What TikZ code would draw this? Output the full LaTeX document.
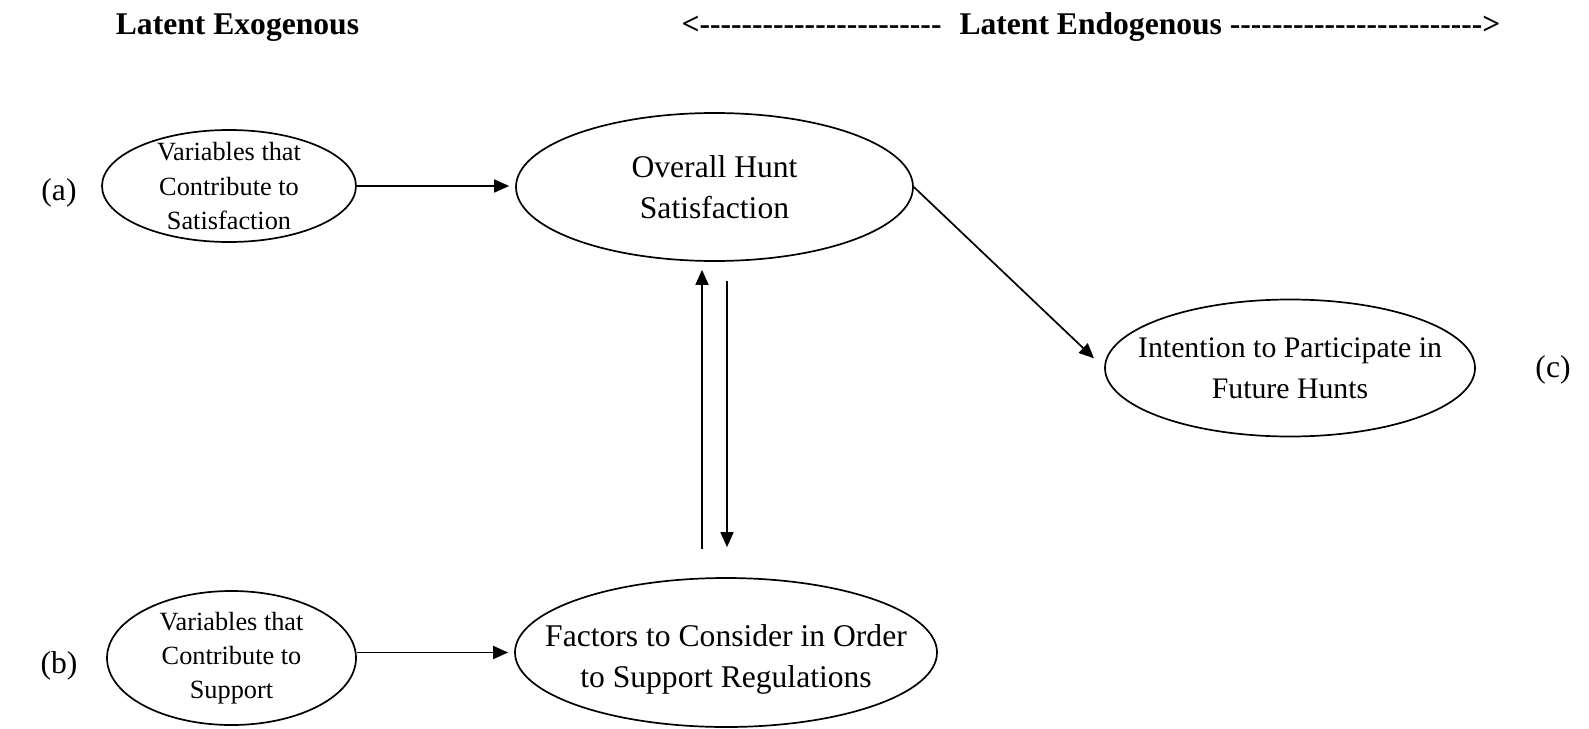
\documentclass[tikz,border=0pt]{standalone}
\usepackage{fontspec}
\setmainfont{Liberation Serif}
\usetikzlibrary{shapes.geometric,arrows.meta,calc}

% a run of plain hyphens (kerns keep them from joining into dashes)
\newcommand\hyprun[1]{\foreach\k in {1,...,#1}{-\kern0pt}}

\begin{document}
\begin{tikzpicture}[x=0.5pt,y=-0.5pt,
  oval/.style={draw,line width=0.85pt,ellipse,inner sep=0pt},
  bigtxt/.style={font=\fontsize{15.8}{20.5}\selectfont,align=center,inner sep=0pt},
  midtxt/.style={font=\fontsize{14.9}{20.5}\selectfont,align=center,inner sep=0pt},
  smalltxt/.style={font=\fontsize{13.15}{17}\selectfont,align=center,inner sep=0pt},
  hdr/.style={font=\fontsize{15.8}{19}\bfseries\selectfont,inner sep=0pt,anchor=base},
  tag/.style={font=\fontsize{15.8}{19}\selectfont,inner sep=0pt,anchor=base},
  arr/.style={line width=0.85pt,-{Triangle[length=7.5pt,width=6.5pt]}}]

% page background and extent
\fill[white] (0,0) rectangle (1589,728);

% column headings
\node[hdr] (hexo) at (237.5,34) {Latent Exogenous};
\node[hdr] (hendo) at (1091,34) {<\hyprun{23}\hspace*{9pt}Latent Endogenous \hyprun{24}>};

% latent variables
\node[oval,minimum width=127pt,minimum height=56pt,
      label={[smalltxt]center:{Variables that\\Contribute to\\Satisfaction}}] (A) at (229,186) {};
\node[oval,minimum width=124.5pt,minimum height=67pt,
      label={[smalltxt]center:{Variables that\\Contribute to\\Support}}] (B) at (231.5,658) {};
\node[oval,minimum width=198.5pt,minimum height=74pt,
      label={[bigtxt]center:{Overall Hunt\\Satisfaction}}] (O) at (714.5,187) {};
\node[oval,minimum width=211pt,minimum height=74.5pt,
      label={[bigtxt,yshift=-3.5pt]center:{Factors to Consider in Order\\to Support Regulations}}] (F) at (726,652.5) {};
\node[oval,minimum width=185pt,minimum height=68.5pt,
      label={[midtxt]center:{Intention to Participate in\\Future Hunts}}] (I) at (1290,368) {};

% row tags
\node[tag] (ta) at (59,200) {(a)};
\node[tag] (tb) at (59,673) {(b)};
\node[tag] (tc) at (1553,377) {(c)};

% paths
\coordinate (upx) at (702,0);
\coordinate (dnx) at (727,0);
\draw[arr,shorten >=3pt] (A.east) -- (A.east -| O.west);
\draw[arr,shorten >=3pt] (F.west -| B.east) -- (F.west);
\draw[arr,shorten <=14pt,shorten >=4pt] (F.north -| upx) -- (O.south -| upx);
\draw[arr,shorten <=9.5pt,shorten >=15pt] (O.south -| dnx) -- (F.north -| dnx);
\draw[arr,shorten >=7pt] (O.east) -- (I.west);
\end{tikzpicture}
\end{document}
